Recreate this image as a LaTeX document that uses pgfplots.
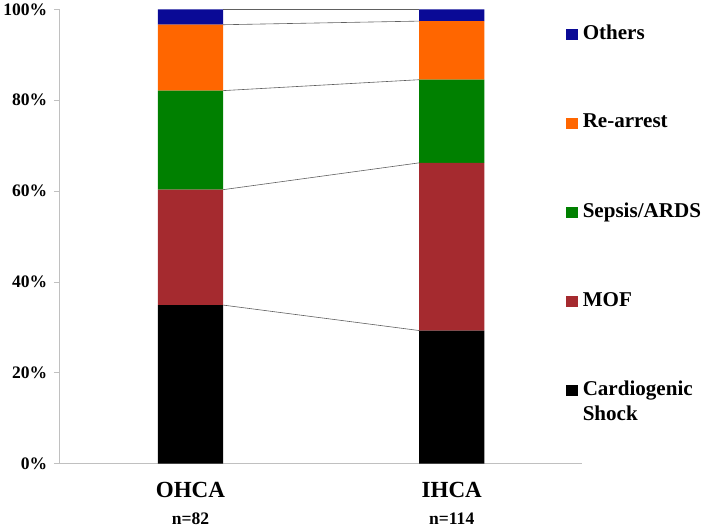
\documentclass[border=0pt]{standalone}
\usepackage{pgfplots}
\pgfplotsset{compat=1.18}
\usepackage{fontspec}
\setmainfont{Liberation Serif}
\definecolor{cOth}{HTML}{0A0A96}
\definecolor{cRe}{HTML}{FF6600}
\definecolor{cSep}{HTML}{008000}
\definecolor{cMOF}{HTML}{A52A2F}
\definecolor{cCS}{HTML}{000000}
\definecolor{axgray}{HTML}{C0C0C0}
\definecolor{lngray}{HTML}{606060}
\pgfplotsset{
  common/.style={scale only axis, width=521pt, height=453pt,
    xmin=-0.5, xmax=1.5, ymin=0, ymax=100},
}
\begin{document}
\begin{tikzpicture}
\begin{axis}[common, axis lines=none, ticks=none]
\addplot[lngray, line width=0.6pt] coordinates {(0.125,34.9) (0.875,29.3)};
\addplot[lngray, line width=0.6pt] coordinates {(0.125,60.3) (0.875,66.2)};
\addplot[lngray, line width=0.6pt] coordinates {(0.125,82.1) (0.875,84.5)};
\addplot[lngray, line width=0.6pt] coordinates {(0.125,96.6) (0.875,97.4)};
\addplot[lngray, line width=0.6pt] coordinates {(0.125,100) (0.875,100)};
\end{axis}
\begin{axis}[common, ybar stacked, bar width=0.25,
  axis x line*=bottom, axis y line*=left,
  axis line style={axgray, line width=0.8pt},
  xtick={0,1},
  xticklabels={{{\fontsize{23}{28}\selectfont OHCA}\\[15pt]{\fontsize{17.5}{21}\selectfont n=82}},
               {{\fontsize{23}{28}\selectfont IHCA}\\[15pt]{\fontsize{17.5}{21}\selectfont n=114}}},
  xticklabel style={align=center, font=\bfseries, yshift=-9pt},
  xtick style={draw=none},
  ytick={0,20,40,60,80,100},
  yticklabel={\pgfmathprintnumber{\tick}\%},
  yticklabel style={font=\bfseries\fontsize{17.5}{21}\selectfont, xshift=-3pt},
  ytick style={axgray, line width=0.8pt},
  tick align=outside, major tick length=6pt,
  /pgf/number format/assume math mode=true,
  reverse legend,
  legend image code/.code={\fill[#1] (0pt,-1pt) rectangle (12pt,10pt);},
  legend style={at={(rel axis cs:0.962,0.975)}, anchor=north west,
    draw=none, fill=none, row sep=69pt, column sep=3pt,
    font=\bfseries\fontsize{21}{25}\selectfont,
    cells={anchor=base west}},
]
\addplot[fill=cCS, draw=none] coordinates {(0,34.9) (1,29.3)};
\addlegendentry{\vtop{\hbox{Cardiogenic}\hbox{Shock}}}
\addplot[fill=cMOF, draw=none] coordinates {(0,25.4) (1,36.9)};
\addlegendentry{MOF}
\addplot[fill=cSep, draw=none] coordinates {(0,21.8) (1,18.3)};
\addlegendentry{Sepsis/ARDS}
\addplot[fill=cRe, draw=none] coordinates {(0,14.5) (1,12.9)};
\addlegendentry{Re-arrest}
\addplot[fill=cOth, draw=none] coordinates {(0,3.4) (1,2.6)};
\addlegendentry{Others}
\end{axis}
\path (current bounding box.north east) ++(3pt,0pt) coordinate (extra);
\path[use as bounding box] (current bounding box.south west) rectangle (extra);
\end{tikzpicture}
\end{document}
